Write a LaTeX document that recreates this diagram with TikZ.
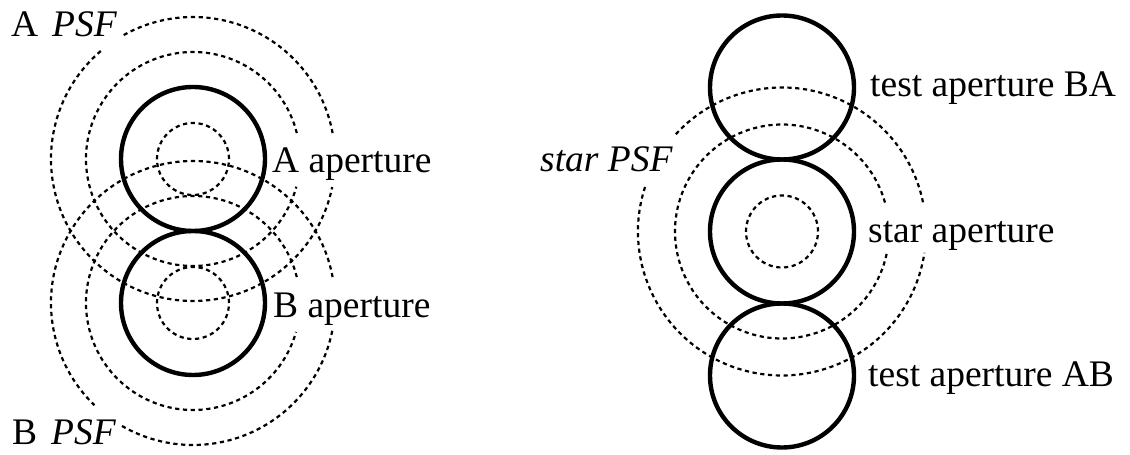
\documentclass[tikz,border=0pt]{standalone}
\usepackage{fontspec}
\setmainfont{Liberation Serif}
\begin{document}
\begin{tikzpicture}[x=1pt,y=1pt,
  aperture/.style={line width=4.4pt},
  psf/.style={line width=2.2pt, dash pattern=on 4.2pt off 3.6pt},
  lbl/.style={inner sep=0pt, anchor=base west, font=\fontsize{37.5}{45}\selectfont}]
\useasboundingbox (0,0) rectangle (1130,455);

% centres of the apertures
\coordinate (cA) at (193,296);
\coordinate (cB) at (193,152);
\coordinate (cBA) at (782,367.5);
\coordinate (cS) at (782,223.5);
\coordinate (cAB) at (782,79.5);

% PSF rings of aperture A
\draw[psf] (cA) circle[radius=36];
\draw[psf] ([shift={(14:107)}]cA) arc[start angle=14, end angle=345, radius=107];
\draw[psf] ([shift={(10.5:142)}]cA) arc[start angle=10.5, end angle=120, radius=142];
\draw[psf] ([shift={(130.5:142)}]cA) arc[start angle=130.5, end angle=348.6, radius=142];

% PSF rings of aperture B
\draw[psf] (cB) circle[radius=36];
\draw[psf] ([shift={(14:107)}]cB) arc[start angle=14, end angle=344.3, radius=107];
\draw[psf] ([shift={(10.5:142)}]cB) arc[start angle=10.5, end angle=226, radius=142];
\draw[psf] ([shift={(240:142)}]cB) arc[start angle=240, end angle=349, radius=142];

% PSF rings of the star
\draw[psf] (cS) circle[radius=36];
\draw[psf] ([shift={(15.7:107)}]cS) arc[start angle=15.7, end angle=348.7, radius=107];
\draw[psf] ([shift={(11.7:144)}]cS) arc[start angle=11.7, end angle=138, radius=144];
\draw[psf] ([shift={(162:144)}]cS) arc[start angle=162, end angle=351.5, radius=144];

% apertures
\draw[aperture] (cA) circle[radius=72];
\draw[aperture] (cB) circle[radius=72];
\draw[aperture] (cBA) circle[radius=72];
\draw[aperture] (cS) circle[radius=72];
\draw[aperture] (cAB) circle[radius=72];

% labels
\node[lbl] (pA) at (11,418) {A\hspace{0.12em} \textit{PSF}};
\node[lbl] (pB) at (12,10) {B\hspace{0.12em} \textit{PSF}};
\node[lbl] (lA) at (272,282) {A aperture};
\node[lbl] (lB) at (273,137) {B aperture};
\node[lbl] (pS) at (540,283) {\textit{star PSF}};
\node[lbl] (tBA) at (870,358) {test aperture BA};
\node[lbl] (sA) at (868,212) {star aperture};
\node[lbl] (tAB) at (868,68) {test aperture AB};
\end{tikzpicture}
\end{document}
